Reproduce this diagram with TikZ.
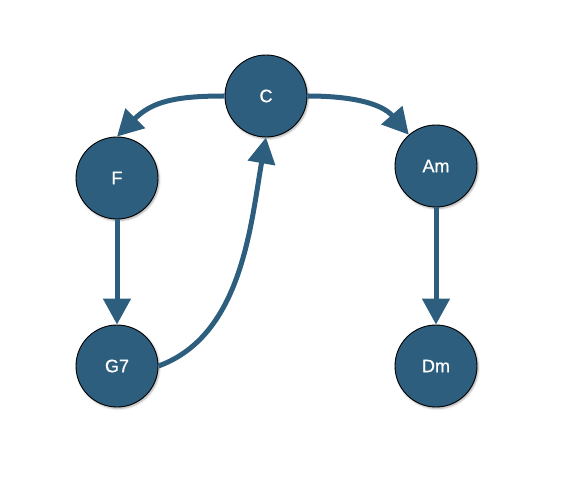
\documentclass[tikz,border=0pt]{standalone}
\usepackage{fontspec}
\newfontfamily\hv[FakeBold=0.7]{Liberation Sans}
\usetikzlibrary{arrows.meta,shadows.blur}
\definecolor{chordblue}{HTML}{2E5E7E}
\begin{document}
\begin{tikzpicture}[x=1pt,y=1pt,
  chord/.style={circle, fill=chordblue, draw=black, line width=0.9pt,
    minimum size=82pt, inner sep=0pt, text=white, font=\hv\fontsize{18}{21}\selectfont,
    blur shadow={shadow xshift=1.2pt, shadow yshift=-1.5pt, shadow blur radius=2pt, shadow opacity=35}},
  link/.style={draw=chordblue, line width=5pt, -{Triangle[length=26pt,width=27pt]}}]
\useasboundingbox (0,0) rectangle (567,482);
\node[chord] (C) at (266,386) {C};
\node[chord] (F) at (117,304) {F};
\node[chord] (Am) at (436,316) {Am};
\node[chord] (G7) at (117,116) {G7};
\node[chord] (Dm) at (436,116) {Dm};
\draw[link] (C.west) to[out=180,in=45,looseness=1.1] (F.north);
\draw[link] (C.east) to[out=0,in=131] (Am);
\draw[link] (F) -- (G7);
\draw[link] (Am) -- (Dm);
\draw[link] (G7.east) to[out=20,in=-100,looseness=0.9] (C.south);
\end{tikzpicture}
\end{document}
